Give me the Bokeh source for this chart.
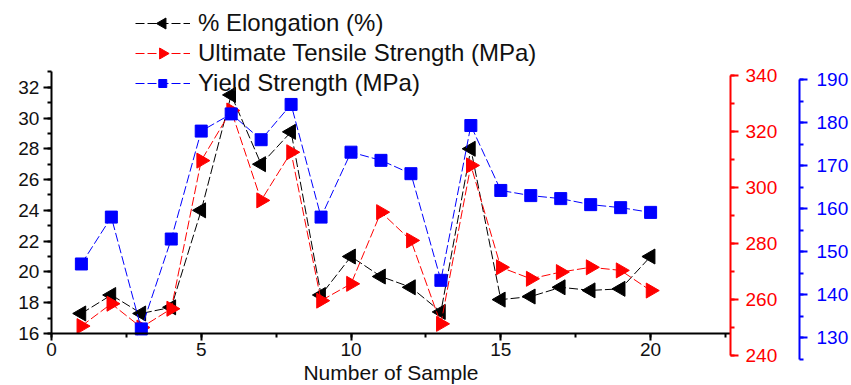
import numpy as np
from bokeh.plotting import figure
from bokeh.models import (Range1d, LinearAxis, SingleIntervalTicker, Legend,
                          LegendItem, ColumnDataSource)
from bokeh.embed import file_html
from bokeh.resources import INLINE

# ---------------- data ----------------
samples = list(range(1, 21))
elongation = [17.3, 18.5, 17.3, 17.7, 24.0, 31.5, 27.0, 29.1, 18.5, 21.0,
              19.7, 19.0, 17.4, 28.0, 18.2, 18.4, 19.0, 18.8, 18.9, 21.0]
uts = [250.5, 258.5, 250.0, 256.7, 309.6, 327.5, 295.4, 312.6, 259.6, 265.6,
       291.2, 281.1, 251.3, 307.9, 271.5, 267.4, 269.8, 271.5, 270.4, 263.2]
ys = [147.1, 158.0, 132.0, 152.9, 178.0, 182.0, 176.0, 184.2, 158.0, 173.1,
      171.2, 168.1, 143.3, 179.3, 164.2, 163.0, 162.3, 160.9, 160.2, 159.1]

labels = ["% Elongation (%)", "Ultimate Tensile Strength (MPa)", "Yield Strength (MPa)"]
x_label = "Number of Sample"

src = ColumnDataSource(dict(x=samples, el=elongation, uts=uts, ys=ys))

FONT = "Liberation Sans"
RED = "#ff0000"
BLUE = "#0000ff"

# frame geometry (pixels) and axis ranges
FRAME_W, FRAME_H = 731, 380
X0, X1 = -1.7, 22.667
Y0, Y1 = 12.62, 37.31

p = figure(width=851, height=385, output_backend="svg", toolbar_location=None,
           x_range=Range1d(X0, X1), y_range=Range1d(Y0, Y1),
           min_border_left=0, min_border_top=5, min_border_bottom=0,
           min_border_right=0)
p.outline_line_color = None
p.grid.visible = False
p.background_fill_color = "white"

p.extra_y_ranges = {"uts": Range1d(229.29, 365.0), "ys": Range1d(118.84, 207.21)}

TICK_FS = "19px"

# ---- x axis (drawn at y = 16) ----
xa = p.xaxis[0]
xa.fixed_location = 16
xa.bounds = (0, X1)
xa.ticker = SingleIntervalTicker(interval=5, num_minor_ticks=2)
xa.axis_label = x_label
xa.axis_label_text_font = FONT
xa.axis_label_text_font_size = "21px"
xa.axis_label_text_font_style = "normal"
xa.axis_label_text_color = "#111111"
xa.axis_label_standoff = 1
xa.major_label_text_font = FONT
xa.major_label_text_font_size = TICK_FS
xa.major_label_text_color = "#111111"
xa.major_label_standoff = 3
xa.axis_line_width = 2
xa.major_tick_out = 7
xa.major_tick_in = 0
xa.minor_tick_out = 4
xa.minor_tick_in = 0
xa.major_tick_line_width = 2
xa.minor_tick_line_width = 2

# ---- left axis (drawn at x = 0) ----
ya = p.yaxis[0]
ya.fixed_location = 0
ya.bounds = (16, 33)
ya.ticker = SingleIntervalTicker(interval=2, num_minor_ticks=2)
ya.major_label_text_font = FONT
ya.major_label_text_font_size = TICK_FS
ya.major_label_text_color = "#111111"
ya.major_label_standoff = 4
ya.axis_line_width = 2
ya.major_tick_out = 8
ya.major_tick_in = 0
ya.minor_tick_out = 4
ya.minor_tick_in = 0
ya.major_tick_line_width = 2
ya.minor_tick_line_width = 2

# ---- right axes ----
def style_right(ax, color, interval):
    ax.ticker = SingleIntervalTicker(interval=interval, num_minor_ticks=2)
    ax.axis_line_color = color
    ax.axis_line_width = 2
    ax.major_tick_line_color = color
    ax.minor_tick_line_color = color
    ax.major_tick_line_width = 2
    ax.minor_tick_line_width = 2
    ax.major_tick_out = 8
    ax.major_tick_in = 0
    ax.minor_tick_out = 4
    ax.minor_tick_in = 0
    ax.major_label_text_color = color
    ax.major_label_text_font = FONT
    ax.major_label_text_font_size = TICK_FS
    ax.major_label_standoff = 7

red_axis = LinearAxis(y_range_name="uts", bounds=(240, 340))
style_right(red_axis, RED, 20)
red_axis.axis_label = "\u00a0"
red_axis.axis_label_text_font_size = "14px"
red_axis.axis_label_standoff = 0
p.add_layout(red_axis, "right")

blue_axis = LinearAxis(y_range_name="ys", bounds=(125, 190))
style_right(blue_axis, BLUE, 10)
blue_axis.major_label_standoff = 9
p.add_layout(blue_axis, "right")

# ---- series ----
DASH = "9 3"
l1 = p.line("x", "el", source=src, color="black", line_width=1, line_dash=DASH)
s1 = p.scatter("x", "el", source=src, marker="triangle", size=15, angle=np.pi / 2,
               color="black")
l2 = p.line("x", "uts", source=src, color=RED, line_width=1, line_dash=DASH,
            y_range_name="uts")
s2 = p.scatter("x", "uts", source=src, marker="triangle", size=15, angle=-np.pi / 2,
               color=RED, y_range_name="uts")
l3 = p.line("x", "ys", source=src, color=BLUE, line_width=1, line_dash=DASH,
            y_range_name="ys")
s3 = p.scatter("x", "ys", source=src, marker="square", size=12, color=BLUE,
               y_range_name="ys")

# ---- legend (text + line keys by Bokeh; rotated key markers overlaid) ----
LEG_X, LEG_BOTTOM = 135, 97          # pixels from frame left / page top
GLYPH_W, ROW_H, ROW_GAP = 55, 28, 2

legend = Legend(items=[LegendItem(label=labels[0], renderers=[l1]),
                       LegendItem(label=labels[1], renderers=[l2]),
                       LegendItem(label=labels[2], renderers=[l3])],
                location=(LEG_X, FRAME_H + 5 - LEG_BOTTOM), orientation="vertical")
legend.glyph_width = GLYPH_W
legend.glyph_height = ROW_H
legend.label_height = ROW_H
legend.spacing = ROW_GAP
legend.padding = 0
legend.margin = 0
legend.label_standoff = 8
legend.label_text_font = FONT
legend.label_text_font_size = "24px"
legend.label_text_color = "#111111"
legend.background_fill_alpha = 0
legend.border_line_alpha = 0
p.add_layout(legend, "center")

def px_x(px):
    return X0 + px * (X1 - X0) / FRAME_W

def px_y(py_from_top):
    return Y0 + (FRAME_H + 5 - py_from_top) * (Y1 - Y0) / FRAME_H

key_x = px_x(LEG_X + GLYPH_W / 2)
row_centers = [LEG_BOTTOM - ROW_H / 2 - i * (ROW_H + ROW_GAP) for i in (2, 1, 0)]
key_src = ColumnDataSource(dict(
    x=[key_x] * 3, y=[px_y(c) for c in row_centers],
    marker=["triangle", "triangle", "square"],
    angle=[np.pi / 2, -np.pi / 2, 0.0],
    size=[11, 11, 8], color=["black", RED, BLUE]))
p.scatter("x", "y", source=key_src, marker="marker", angle="angle", size="size",
          color="color")

open("out.html", "w").write(file_html(p, INLINE))
